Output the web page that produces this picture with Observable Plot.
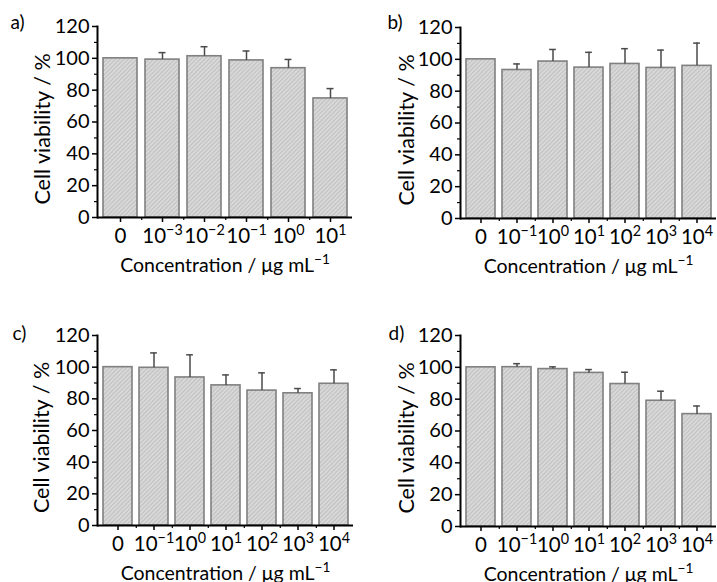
<!DOCTYPE html>
<html>
<head>
<meta charset="utf-8">
<script src="https://cdn.jsdelivr.net/npm/d3@7"></script>
<script src="https://cdn.jsdelivr.net/npm/@observablehq/plot@0.6"></script>
<style>
  html, body { margin: 0; padding: 0; background: #fff; }
  #grid { display: grid; grid-template-columns: 358px 359px; grid-template-rows: 290px 292px; width: 717px; height: 582px; }
  #grid svg { display: block; overflow: visible; }
</style>
</head>
<body>
<svg width="0" height="0" style="position:absolute">
  <defs>
    <pattern id="hatch" patternUnits="userSpaceOnUse" width="3" height="3" patternTransform="rotate(45)">
      <rect width="3" height="3" fill="#d8d8d8"></rect>
      <line x1="0" y1="0" x2="0" y2="3" stroke="#b0b0b0" stroke-width="1.2"></line>
    </pattern>
  </defs>
</svg>
<div id="grid"></div>
<script>
// ---- data ----
const catsA = ["0", "10⁻³", "10⁻²", "10⁻¹", "10⁰", "10¹"];
const catsB = ["0", "10⁻¹", "10⁰", "10¹", "10²", "10³", "10⁴"];
const catsC = ["0", "10⁻¹", "10⁰", "10¹", "10²", "10³", "10⁴"];
const catsD = ["0", "10⁻¹", "10⁰", "10¹", "10²", "10³", "10⁴"];

const valuesA = [100, 99.2, 101.3, 98.7, 93.8, 74.8];
const errorsA = [0, 4.4, 6.0, 5.9, 5.5, 6.2];

const valuesB = [100, 93.3, 98.6, 94.8, 97.1, 94.6, 95.9];
const errorsB = [0, 3.8, 7.6, 9.6, 9.6, 11.2, 14.3];

const valuesC = [100, 99.6, 93.5, 88.5, 85.2, 83.5, 89.5];
const errorsC = [0, 9.4, 14.3, 6.6, 11.2, 3.0, 8.8];

const valuesD = [100, 100.1, 98.9, 96.5, 89.5, 79.0, 70.6];
const errorsD = [0, 2.2, 1.4, 2.1, 7.4, 6.0, 5.1];

const panelLabels = ["a)", "b)", "c)", "d)"];
const yTitle = "Cell viability / %";
const xTitle = "Concentration / μg mL⁻¹";
const yMajor = [0, 20, 40, 60, 80, 100, 120];
const yMinor = [10, 30, 50, 70, 90, 110];

const FONT = "Lato, 'Open Sans', sans-serif";
const SUP = {"⁻": "−", "⁰": "0", "¹": "1", "²": "2", "³": "3", "⁴": "4"};

function panel(label, cats, values, errors, box) {
  const data = cats.map((c, i) => ({c, v: values[i], e: errors[i]}));
  const innerW = box.width - box.ml - box.mr;
  const step = innerW / cats.length;
  const bw = step * 0.8;
  const capInset = Math.max(0, (bw - 7) / 2);
  return Plot.plot({
    width: box.width,
    height: box.height,
    marginLeft: box.ml,
    marginRight: box.mr,
    marginTop: box.mt,
    marginBottom: box.mb,
    style: {fontFamily: FONT, fontSize: "18px", color: "#000", background: "transparent", overflow: "visible"},
    x: {domain: cats, paddingInner: 0.2, paddingOuter: 0.1, label: null},
    y: {domain: [0, 120], label: null},
    marks: [
      Plot.barY(data, {x: "c", y: "v", fill: "url(#hatch)", stroke: "#808080", strokeWidth: 1.6}),
      Plot.ruleX(data.filter(d => d.e > 0), {x: "c", y1: "v", y2: d => d.v + d.e, stroke: "#4a4a4a", strokeWidth: 1.5}),
      Plot.tickY(data.filter(d => d.e > 0), {x: "c", y: d => d.v + d.e, stroke: "#4a4a4a", strokeWidth: 1.5, insetLeft: capInset, insetRight: capInset}),
      Plot.axisY(yMajor, {tickSize: 5, tickPadding: 3, strokeWidth: 1.5, fontSize: 20, label: null}),
      Plot.axisY(yMinor, {tickSize: 3, tickFormat: () => "", strokeWidth: 1.2, label: null}),
      Plot.axisX(cats, {tickSize: 5, tickPadding: 6, strokeWidth: 1.5, fontSize: 20.5, label: null}),
      Plot.axisX(cats.slice(0, -1), {tickSize: 3, tickFormat: () => "", dx: step / 2, strokeWidth: 1.2, label: null}),
      Plot.ruleY([0], {stroke: "#000", strokeWidth: 2}),
      Plot.frame({anchor: "left", stroke: "#000", strokeWidth: 2}),
      Plot.text([yTitle], {frameAnchor: "left", textAnchor: "middle", dx: -box.ml + box.ytx, dy: 7, rotate: -90, fontSize: 21.5, fill: "#000"}),
      Plot.text([xTitle], {frameAnchor: "bottom", dy: 54, fontSize: 19.5, fill: "#000"}),
      Plot.text([label], {frameAnchor: "top-left", dx: box.lx - box.ml, dy: box.ly - box.mt, fontSize: 19, textAnchor: "start", fill: "#000"})
    ]
  });
}

// render unicode superscripts as real superscript tspans
function superscripts(svg) {
  d3.select(svg).selectAll("text").each(function () {
    const el = d3.select(this);
    const target = this.querySelector("tspan") ? d3.select(this.querySelector("tspan")) : el;
    const s = target.text();
    const m = s.match(/^(.*?)([⁻⁰¹²³⁴]+)$/);
    if (!m) return;
    target.text(m[1]);
    target.append("tspan")
      .attr("baseline-shift", "super")
      .attr("font-size", "0.7em")
      .text([...m[2]].map(ch => SUP[ch]).join(""));
  });
  return svg;
}

const grid = document.getElementById("grid");
grid.append(superscripts(panel(panelLabels[0], catsA, valuesA, errorsA, {width: 358, height: 290, ml: 97, mr: 6, mt: 26, mb: 73, ytx: 43, lx: 10, ly: 15})));
grid.append(superscripts(panel(panelLabels[1], catsB, valuesB, errorsB, {width: 359, height: 290, ml: 102, mr: 1, mt: 27, mb: 72, ytx: 49, lx: 29, ly: 15})));
grid.append(superscripts(panel(panelLabels[2], catsC, valuesC, errorsC, {width: 358, height: 292, ml: 97, mr: 5, mt: 45, mb: 57, ytx: 42, lx: 12, ly: 36})));
grid.append(superscripts(panel(panelLabels[3], catsD, valuesD, errorsD, {width: 359, height: 292, ml: 102, mr: 1, mt: 45, mb: 56, ytx: 49, lx: 30, ly: 36})));
</script>
</body>
</html>
